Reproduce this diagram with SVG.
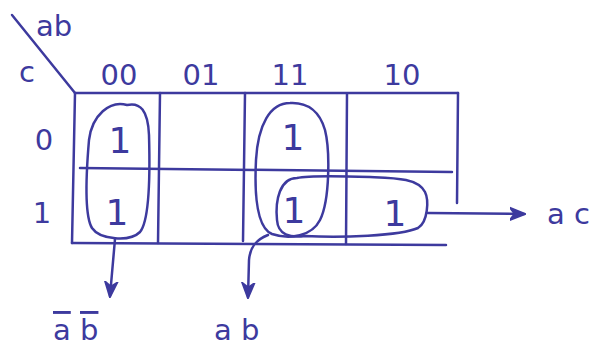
<svg xmlns="http://www.w3.org/2000/svg" width="605" height="350" viewBox="0 0 605 350">
<style>
.ink{stroke:#3d3a9e;stroke-width:2.5;fill:none;stroke-linecap:round;stroke-linejoin:round}
.t{fill:#3d3a9e;font-family:"DejaVu Sans","Liberation Sans",sans-serif;font-size:29px}
.one{fill:#3d3a9e;font-family:"DejaVu Sans","Liberation Sans",sans-serif;font-size:36px;text-anchor:middle}
.lbl{text-anchor:middle}
</style>
<defs>
<marker id="ahb" viewBox="0 0 10 10" refX="9" refY="5" markerWidth="16" markerHeight="16" orient="auto" markerUnits="userSpaceOnUse">
<path d="M0,1 L10,5 L0,9 L3,5 z" fill="#3d3a9e" stroke="#3d3a9e" stroke-width="1"/>
</marker>
</defs>
<g id="grid">
<path class="ink" d="M12,15 L75,93"/>
<path class="ink" d="M75,93 L458,93"/>
<path class="ink" d="M75,93 L72,243"/>
<path class="ink" d="M160,93 L158,243"/>
<path class="ink" d="M245,93 L243,241"/>
<path class="ink" d="M347,94 L346,244"/>
<path class="ink" d="M458,93 L457,203"/>
<path class="ink" d="M80,168 L452,172"/>
<path class="ink" d="M72,243 L446,245"/>
<text class="t lbl" x="54" y="36">ab</text>
<text class="t lbl" x="27" y="82">c</text>
<text class="t lbl" x="119" y="85">00</text>
<text class="t lbl" x="201" y="85">01</text>
<text class="t lbl" x="290" y="85">11</text>
<text class="t lbl" x="402" y="85">10</text>
<text class="t lbl" x="44" y="150">0</text>
<text class="t lbl" x="42" y="223">1</text>
</g>
<g id="cells">
<text class="one" x="120" y="153">1</text>
<text class="one" x="117" y="225">1</text>
<text class="one" x="293" y="150">1</text>
<text class="one" x="294" y="223">1</text>
<text class="one" x="395" y="226">1</text>
</g>
<g id="loop-ab-bar">
<path class="ink" d="M127,105 C110,100 92,115 89,140 C86,175 84,215 92,228 C100,240 130,242 140,232 C150,220 150,170 149,135 C148,110 140,102 127,105 Z"/>
</g>
<g id="loop-ab">
<path class="ink" d="M290,103 C270,103 258,125 256,160 C254,200 258,228 272,234 C290,240 312,236 320,220 C330,200 330,150 325,130 C320,112 308,102 290,103 Z"/>
</g>
<g id="loop-ac">
<path class="ink" d="M297,178 C280,178 275,200 277,220 C278,235 290,238 305,236 C340,238 400,236 418,228 C428,222 429,200 425,192 C418,178 395,178 370,177 C340,176 310,175 297,178 Z"/>
</g>
<g id="connectors">
<path class="ink" d="M115,239 L110,296" marker-end="url(#ahb)"/>
<path class="ink" d="M268,235 C255,240 250,248 249,260 L248,297" marker-end="url(#ahb)"/>
<path class="ink" d="M428,213 L524,214" marker-end="url(#ahb)"/>
</g>
<g id="labels">
<text class="t" x="53" y="340"><tspan text-decoration="overline">a</tspan> <tspan text-decoration="overline">b</tspan></text>
<text class="t" x="214" y="340">a b</text>
<text class="t" x="547" y="224">a c</text>
</g>
</svg>
